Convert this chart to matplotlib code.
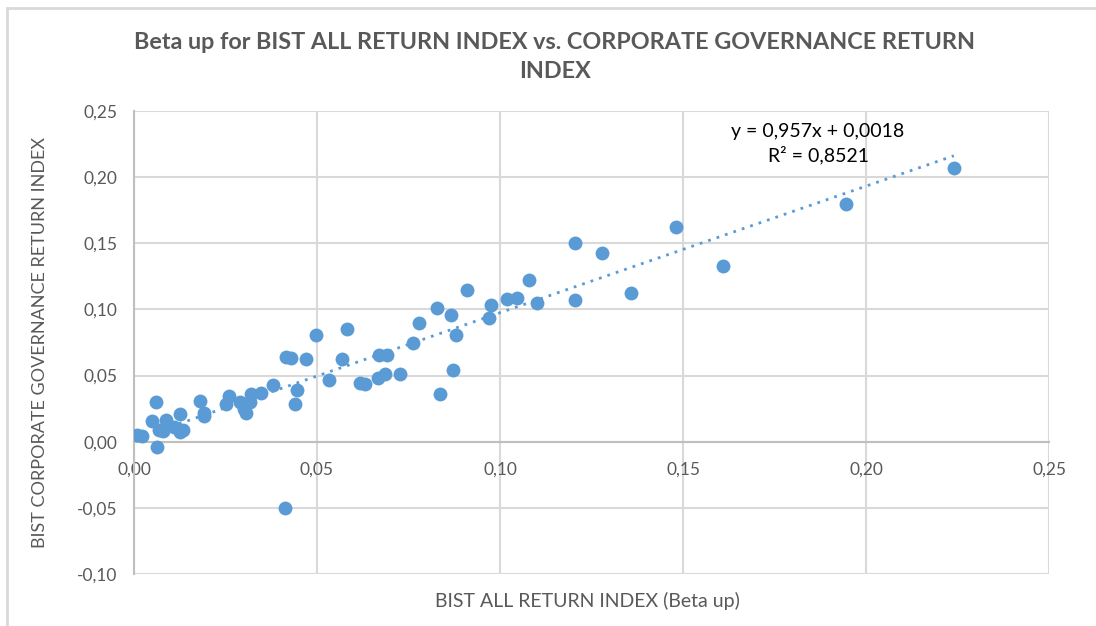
import matplotlib.pyplot as plt
from matplotlib.ticker import FuncFormatter, MultipleLocator
from matplotlib.patches import Rectangle
import numpy as np

# beta up values
beta_all = [0.0008, 0.0022, 0.0049, 0.0060, 0.0063, 0.0068, 0.0079, 0.0087, 0.0109, 0.0126,
            0.0126, 0.0134, 0.0180, 0.0190, 0.0190, 0.0250, 0.0260, 0.0290, 0.0300, 0.0306,
            0.0317, 0.0320, 0.0347, 0.0380, 0.0415, 0.0429, 0.0413, 0.0440, 0.0445, 0.0470,
            0.0497, 0.0533, 0.0568, 0.0582, 0.0617, 0.0630, 0.0667, 0.0669, 0.0686, 0.0691,
            0.0727, 0.0762, 0.0780, 0.0828, 0.0836, 0.0866, 0.0872, 0.0880, 0.0910, 0.0970,
            0.0975, 0.1020, 0.1046, 0.1080, 0.1100, 0.1205, 0.1205, 0.1280, 0.1358, 0.1480,
            0.1610, 0.1945, 0.2240]
beta_cg = [0.0053, 0.0045, 0.0159, 0.0300, -0.0038, 0.0090, 0.0083, 0.0166, 0.0113, 0.0210,
           0.0075, 0.0090, 0.0310, 0.0220, 0.0196, 0.0287, 0.0347, 0.0300, 0.0250, 0.0220,
           0.0300, 0.0360, 0.0370, 0.0430, 0.0640, 0.0634, -0.0498, 0.0287, 0.0390, 0.0627,
           0.0808, 0.0468, 0.0627, 0.0853, 0.0446, 0.0438, 0.0483, 0.0657, 0.0514, 0.0657,
           0.0514, 0.0748, 0.0899, 0.1010, 0.0363, 0.0960, 0.0540, 0.0808, 0.1150, 0.0937,
           0.1030, 0.1080, 0.1090, 0.1220, 0.1050, 0.1500, 0.1070, 0.1428, 0.1125, 0.1620,
           0.1330, 0.1800, 0.2070]

slope = 0.957
intercept = 0.0018
r2 = 0.8521

blue = '#5B9BD5'
grid_c = '#D9D9D9'
axis_c = '#BFBFBF'
text_c = '#595959'

plt.rcParams['font.family'] = ['Lato', 'DejaVu Sans']

fig = plt.figure(figsize=(10.96, 6.26), dpi=100)
ax = fig.add_axes([134 / 1096, 1 - 574 / 626, 915 / 1096, 463 / 626])

# outer chart frame
fig.patches.append(Rectangle((7 / 1096, -0.1), 1.2, 1 - 8 / 626 + 0.1, transform=fig.transFigure,
                             fill=False, edgecolor=grid_c, linewidth=2))

ax.scatter(beta_all, beta_cg, s=100, color=blue, zorder=3, linewidths=0)

xs = np.array([min(beta_all), max(beta_all)])
ax.plot(xs, slope * xs + intercept, linestyle=(0, (1, 2.2)), color=blue, linewidth=2, zorder=2)

ax.set_xlim(0, 0.25)
ax.set_ylim(-0.10, 0.25)
ax.xaxis.set_major_locator(MultipleLocator(0.05))
ax.yaxis.set_major_locator(MultipleLocator(0.05))
fmt = FuncFormatter(lambda v, p: f'{v:.2f}'.replace('.', ',').replace('-0,00', '0,00'))
ax.xaxis.set_major_formatter(fmt)
ax.yaxis.set_major_formatter(fmt)

ax.grid(True, color=grid_c, linewidth=1.5, zorder=0)
ax.set_axisbelow(True)
for s in ['top', 'right']:
    ax.spines[s].set_visible(False)
ax.spines['bottom'].set_position(('data', 0))
ax.spines['bottom'].set_color(axis_c)
ax.spines['bottom'].set_linewidth(1.5)
ax.spines['left'].set_color(axis_c)
ax.spines['left'].set_linewidth(1.5)
ax.tick_params(axis='both', length=0, labelsize=12.5, labelcolor=text_c)
ax.tick_params(axis='x', pad=14)
ax.tick_params(axis='y', pad=12)

fig.text(587 / 1096, 1 - 601 / 626, 'BIST ALL RETURN INDEX (Beta up)', ha='center', va='center',
         fontsize=14, color=text_c)
fig.text(40 / 1096, 1 - 342 / 626, 'BIST CORPORATE GOVERNANCE RETURN INDEX', ha='center', va='center',
         rotation=90, fontsize=13, color=text_c)
fig.text(555 / 1096, 1 - 57 / 626, 'Beta up for BIST ALL RETURN INDEX vs. CORPORATE GOVERNANCE RETURN\nINDEX',
         ha='center', va='center', fontsize=16.8, fontweight='bold', color=text_c, linespacing=1.45)

ax.text(818 / 1096, 1 - 131 / 626, f'y = {slope:.3f}x + {intercept:.4f}'.replace('.', ','),
        transform=fig.transFigure, ha='center', va='center', fontsize=14, color='black')
ax.text(818 / 1096, 1 - 155 / 626, f'R² = {r2:.4f}'.replace('.', ','),
        transform=fig.transFigure, ha='center', va='center', fontsize=14, color='black')

fig.savefig('out.png', dpi=100)
